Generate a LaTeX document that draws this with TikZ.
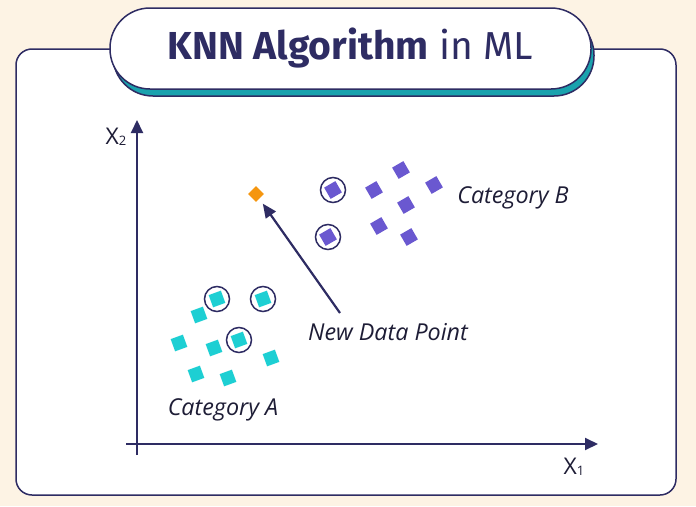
\documentclass[tikz,border=0pt]{standalone}
\usepackage{fontspec}
\setmainfont{Open Sans}
\newfontfamily\titlefont{Fira Sans}
\usetikzlibrary{positioning, arrows.meta, shadows}

\definecolor{cream}{HTML}{FDF3E4}
\definecolor{navy}{HTML}{2E2C63}
\definecolor{inkdark}{HTML}{1E1D36}
\definecolor{tealdark}{HTML}{1AA2AE}
\definecolor{cyanpt}{HTML}{1DCFD3}
\definecolor{purplept}{HTML}{6A58D0}
\definecolor{orangept}{HTML}{F5960F}

\begin{document}
\begin{tikzpicture}[
    x=1pt, y=-1pt,
    every node/.style={font=\fontsize{23.3}{26}\selectfont\itshape, text=inkdark},
    frame/.style={
        draw=navy,
        fill=white,
        line width=1.5pt,
        rounded corners=16pt
    },
    titlepill/.style={
        rectangle,
        draw=navy,
        fill=white,
        line width=1.5pt,
        rounded corners=40pt,
        minimum width=481pt,
        minimum height=81pt,
        text=navy,
        font=\titlefont\fontsize{39}{46}\selectfont,
        drop shadow={shadow xshift=3pt, shadow yshift=-7pt,
            fill=tealdark, draw=navy, line width=1.5pt, opacity=1}
    },
    pointA/.style={rectangle, fill=cyanpt, minimum size=13pt, inner sep=0pt, rotate=20},
    pointB/.style={rectangle, fill=purplept, minimum size=13pt, inner sep=0pt, rotate=30},
    newpoint/.style={rectangle, fill=orangept, minimum size=11pt, inner sep=0pt, rotate=45},
    ring/.style={circle, draw=navy, line width=1.5pt, minimum size=25pt, inner sep=0pt},
    axislabel/.style={font=\fontsize{23}{26}\selectfont, text=inkdark},
    axis/.style={
        -{Triangle[length=13pt, width=12pt]},
        line width=2pt,
        draw=navy
    },
    arrow/.style={
        -{Triangle[length=14pt, width=12pt]},
        line width=2.2pt,
        draw=navy
    }
]

% ==================== BACKGROUND ====================
\fill[cream] (0,0) rectangle (696,506);
\useasboundingbox (0,0) rectangle (696,506);
\draw[frame] (16,49) rectangle (676,495);

% ==================== TITLE ====================
\node[titlepill] (title) at (350.5,48.5) {\textbf{KNN Algorithm} in ML};

% ==================== AXES ====================
\coordinate (origin) at (137,444);
\coordinate (ybottom) at (137,455);
\coordinate (ytop) at (137,120);
\coordinate (xleft) at (126,444);
\coordinate (xright) at (598,444);

\draw[axis] (ybottom) -- (ytop);
\draw[axis] (xleft) -- (xright);

\node[axislabel] (xtwo) at (116,137) {X\raisebox{-0.1ex}{\fontsize{13}{15}\selectfont 2}};
\node[axislabel] (xone) at (574,467) {X\raisebox{-0.1ex}{\fontsize{13}{15}\selectfont 1}};

% ==================== CATEGORY A ====================
\node[pointA] (a1) at (217,299) {};
\node[pointA] (a2) at (263,299) {};
\node[pointA] (a3) at (239,340) {};
\node[pointA] (a4) at (199,315) {};
\node[pointA] (a5) at (179,343) {};
\node[pointA] (a6) at (214,348) {};
\node[pointA] (a7) at (271,358) {};
\node[pointA] (a8) at (196,374) {};
\node[pointA] (a9) at (228,378) {};

\node[ring] at (a1) {};
\node[ring] at (a2) {};
\node[ring] at (a3) {};

\node (catA) at (223,410) {Category A};

% ==================== CATEGORY B ====================
\node[pointB] (b1) at (333,190) {};
\node[pointB] (b2) at (328,237) {};
\node[pointB] (b3) at (374,190) {};
\node[pointB] (b4) at (401,170) {};
\node[pointB] (b5) at (434,185) {};
\node[pointB] (b6) at (406,205) {};
\node[pointB] (b7) at (379,226) {};
\node[pointB] (b8) at (409,237) {};

\node[ring] at (b1) {};
\node[ring] at (b2) {};

\node (catB) at (513,198) {Category B};

% ==================== NEW DATA POINT ====================
\node[newpoint] (new) at (256,194) {};
\node (newlabel) at (388,332) {New Data Point};
\coordinate (tail) at (340,313);

\draw[arrow, shorten >=6pt] (tail) -- (new);

\end{tikzpicture}
\end{document}
